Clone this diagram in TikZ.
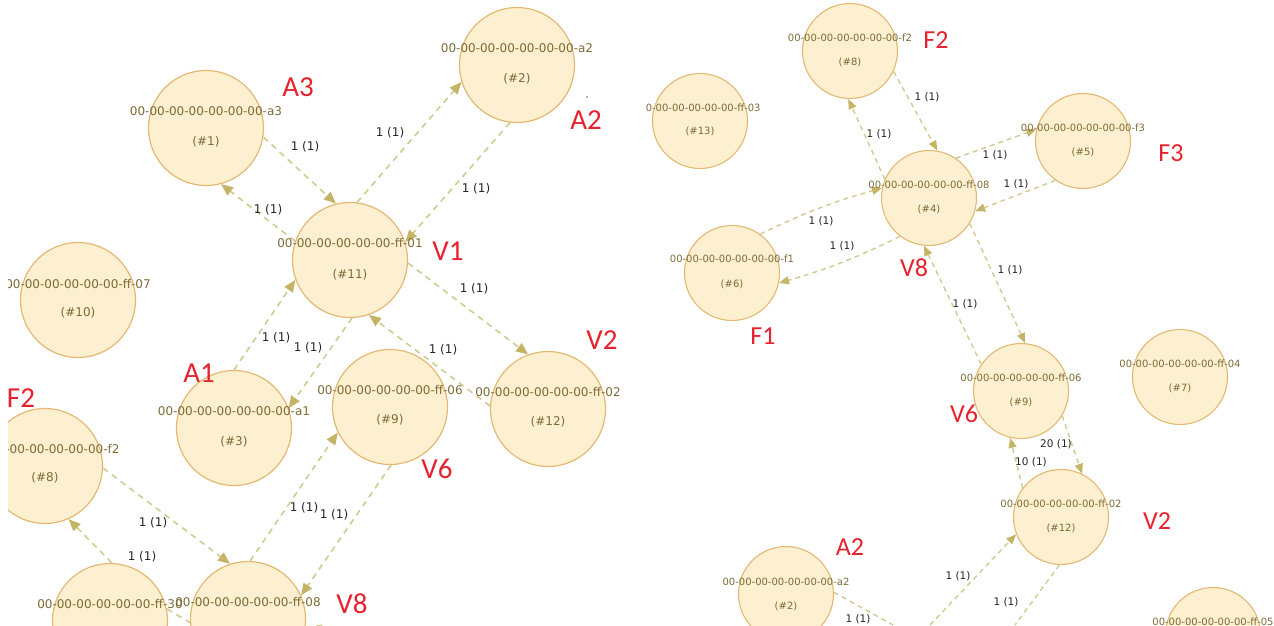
\documentclass[tikz,border=0pt]{standalone}
\usepackage{fontspec}
\setmainfont{DejaVu Sans}
\newfontfamily\redfont{Carlito}
\usetikzlibrary{arrows.meta}
\definecolor{cFill}{HTML}{FDF0D0}
\definecolor{cBorder}{HTML}{E4B873}
\definecolor{cText}{HTML}{7D6A36}
\definecolor{cEdge}{HTML}{D3C993}
\definecolor{cArrow}{HTML}{C4B466}
\definecolor{cLab}{HTML}{262626}
\definecolor{cRed}{HTML}{E5222E}
\begin{document}
\begin{tikzpicture}[x=1pt,y=-1pt,
  lc/.style={circle,draw=cBorder,fill=cFill,line width=1.2pt,minimum size=115pt,inner sep=0pt},
  rc/.style={circle,draw=cBorder,fill=cFill,line width=1.1pt,minimum size=95pt,inner sep=0pt},
  lt/.style={text=cText,font=\fontsize{12}{12}\selectfont,inner sep=0pt},
  rt/.style={text=cText,font=\fontsize{10}{10}\selectfont,inner sep=0pt},
  le/.style={draw=cEdge,dash pattern=on 6pt off 5pt,line width=1.6pt,-{Triangle[length=12pt,width=10pt,color=cArrow]}},
  re/.style={draw=cEdge,dash pattern=on 5pt off 4pt,line width=1.4pt,-{Triangle[length=10pt,width=8pt,color=cArrow]}},
  lnone/.style={draw=cEdge,dash pattern=on 6pt off 5pt,line width=1.6pt},
  rnone/.style={draw=cEdge,dash pattern=on 5pt off 4pt,line width=1.4pt},
  ll/.style={text=cLab,font=\fontsize{12}{12}\selectfont,inner sep=0pt},
  rl/.style={text=cLab,font=\fontsize{10.5}{10.5}\selectfont,inner sep=0pt},
  lred/.style={text=cRed,font=\redfont\fontsize{29}{29}\selectfont,inner sep=0pt},
  rred/.style={text=cRed,font=\redfont\fontsize{26}{26}\selectfont,inner sep=0pt}]
\useasboundingbox (0,0) rectangle (1274,625);
% ---------------- left panel ----------------
\begin{scope}
\clip (8,0) rectangle (641,625);
\node[lc] (a3) at (206,128) {};
\node[lc] (a2) at (517,65) {};
\node[lc] (v1) at (350,260) {};
\node[lc] (f7) at (78,300) {};
\node[lc] (a1) at (234,428) {};
\node[lc] (v6) at (390,407) {};
\node[lc] (v2) at (548,409) {};
\node[lc] (f2) at (45,466) {};
\node[lc] (f30) at (110,621) {};
\node[lc] (v8) at (248,619) {};
\coordinate (p1) at (194,625);
\coordinate (p2) at (326,625);
\draw[le] (a3.-9) -- (v1.104);
\draw[le] (v1.161) -- (a3.-75);
\draw[le] (v1.83) -- (a2.-163);
\draw[le] (a2.-97) -- (v1.18);
\draw[le] (v1.-3) -- (v2.110);
\draw[le] (a1.90) -- (v1.200);
\draw[le] (v1.-88) -- (a1.20);
\draw[le] (v2.177) -- (v1.-71);
\draw[le] (f2.-2) -- (v8.108);
\draw[le] (f30.88) -- (f2.-66);
\draw[le] (v8.88) -- (v6.206);
\draw[le] (v6.-89) -- (v8.24);
\draw[lnone] (f30.12) -- (p1);
\draw[lnone] (v8.-8) -- (p2);
\node[lt] (a3i) at (206,111) {00-00-00-00-00-00-00-a3};
\node[lt] (a3n) at (206,142) {(\#1)};
\node[lt] (a2i) at (517,48) {00-00-00-00-00-00-00-a2};
\node[lt] (a2n) at (517,79) {(\#2)};
\node[lt] (v1i) at (350,243) {00-00-00-00-00-00-ff-01};
\node[lt] (v1n) at (350,275) {(\#11)};
\node[lt] (f7i) at (78,284) {00-00-00-00-00-00-ff-07};
\node[lt] (f7n) at (78,313) {(\#10)};
\node[lt] (a1i) at (234,411) {00-00-00-00-00-00-00-a1};
\node[lt] (a1n) at (234,442) {(\#3)};
\node[lt] (v6i) at (390,390) {00-00-00-00-00-00-ff-06};
\node[lt] (v6n) at (390,420) {(\#9)};
\node[lt] (v2i) at (548,392) {00-00-00-00-00-00-ff-02};
\node[lt] (v2n) at (548,422) {(\#12)};
\node[lt] (f2i) at (45,449) {00-00-00-00-00-00-00-f2};
\node[lt] (f2n) at (45,478) {(\#8)};
\node[lt] (f30i) at (110,604) {00-00-00-00-00-00-ff-30};
\node[lt] (v8i) at (248,602) {00-00-00-00-00-00-ff-08};
\node[ll] (e1) at (305,147) {1 (1)};
\node[ll] (e2) at (268,210) {1 (1)};
\node[ll] (e3) at (390,133) {1 (1)};
\node[ll] (e4) at (476,189) {1 (1)};
\node[ll] (e5) at (474,289) {1 (1)};
\node[ll] (e6) at (276,338) {1 (1)};
\node[ll] (e7) at (308,348) {1 (1)};
\node[ll] (e8) at (443,350) {1 (1)};
\node[ll] (e9) at (153,523) {1 (1)};
\node[ll] (e10) at (142,557) {1 (1)};
\node[ll] (e11) at (304,508) {1 (1)};
\node[ll] (e12) at (334,515) {1 (1)};
\node[lred] (tA3) at (298,87) {A3};
\node[lred] (tA2) at (586,120) {A2};
\node[lred] (tV1) at (448,251) {V1};
\node[lred] (tA1) at (199,373) {A1};
\node[lred] (tV2) at (602,340) {V2};
\node[lred] (tV6) at (437,469) {V6};
\node[lred] (tF2) at (21,398) {F2};
\node[lred] (tV8) at (352,604) {V8};
\fill[black!60] (587,97) circle (0.9);
\end{scope}
% ---------------- right panel ----------------
\begin{scope}
\clip (646,0) rectangle (1274,625);
\node[rc] (r13) at (700,121) {};
\node[rc] (r8) at (850,51) {};
\node[rc] (r5) at (1083,141) {};
\node[rc] (r4) at (929,198) {};
\node[rc] (r6) at (732,273) {};
\node[rc] (r9) at (1021,391) {};
\node[rc] (r7) at (1180,377) {};
\node[rc] (r12) at (1061,517) {};
\node[rc] (r2) at (786,594) {};
\node[rc] (r05) at (1213,635) {};
\coordinate (q1) at (930,625);
\coordinate (q2) at (1015,625);
\coordinate (q3) at (893,625);
\draw[re] (r8.-25) -- (r4.80);
\draw[re] (r4.157) -- (r8.-92);
\draw[re] (r4.56) -- (r5.166);
\draw[re] (r5.235) -- (r4.-16);
\draw[re] (r6.54) to[bend left=5] (r4.168);
\draw[re] (r4.233) to[bend left=5] (r6.-12);
\draw[re] (r4.-32) -- (r9.85);
\draw[re] (r9.146) -- (r4.264);
\draw[re] (r9.-31) -- (r12.64);
\draw[re] (r12.143) -- (r9.-103);
\draw[re] (q1) -- (r12.201);
\draw[rnone] (r12.-92) -- (q2);
\draw[rnone] (r2.2) -- (q3);
\node[rt] (r13i) at (700,108) {00-00-00-00-00-00-ff-03};
\node[rt] (r13n) at (700,131) {(\#13)};
\node[rt] (r8i) at (850,38) {00-00-00-00-00-00-00-f2};
\node[rt] (r8n) at (850,62) {(\#8)};
\node[rt] (r5i) at (1083,128) {00-00-00-00-00-00-00-f3};
\node[rt] (r5n) at (1083,152) {(\#5)};
\node[rt] (r4i) at (929,185) {00-00-00-00-00-00-ff-08};
\node[rt] (r4n) at (929,209) {(\#4)};
\node[rt] (r6i) at (732,259) {00-00-00-00-00-00-00-f1};
\node[rt] (r6n) at (732,284) {(\#6)};
\node[rt] (r9i) at (1021,378) {00-00-00-00-00-00-ff-06};
\node[rt] (r9n) at (1021,402) {(\#9)};
\node[rt] (r7i) at (1180,364) {00-00-00-00-00-00-ff-04};
\node[rt] (r7n) at (1180,388) {(\#7)};
\node[rt] (r12i) at (1061,504) {00-00-00-00-00-00-ff-02};
\node[rt] (r12n) at (1061,528) {(\#12)};
\node[rt] (r2i) at (786,582) {00-00-00-00-00-00-00-a2};
\node[rt] (r2n) at (786,606) {(\#2)};
\node[rt] (r05i) at (1213,622) {00-00-00-00-00-00-ff-05};
\node[rl] (g1) at (927,97) {1 (1)};
\node[rl] (g2) at (879,134) {1 (1)};
\node[rl] (g3) at (995,155) {1 (1)};
\node[rl] (g4) at (1016,184) {1 (1)};
\node[rl] (g5) at (821,221) {1 (1)};
\node[rl] (g6) at (842,246) {1 (1)};
\node[rl] (g7) at (1010,270) {1 (1)};
\node[rl] (g8) at (965,304) {1 (1)};
\node[rl] (g9) at (1056,444) {20 (1)};
\node[rl] (g10) at (1031,462) {10 (1)};
\node[rl] (g11) at (958,576) {1 (1)};
\node[rl] (g12) at (1006,602) {1 (1)};
\node[rl] (g13) at (858,619) {1 (1)};
\node[rred] (uF2) at (936,40) {F2};
\node[rred] (uF3) at (1171,153) {F3};
\node[rred] (uV8) at (914,268) {V8};
\node[rred] (uF1) at (763,336) {F1};
\node[rred] (uV6) at (964,414) {V6};
\node[rred] (uV2) at (1157,521) {V2};
\node[rred] (uA2) at (850,547) {A2};
\end{scope}
\end{tikzpicture}
\end{document}
